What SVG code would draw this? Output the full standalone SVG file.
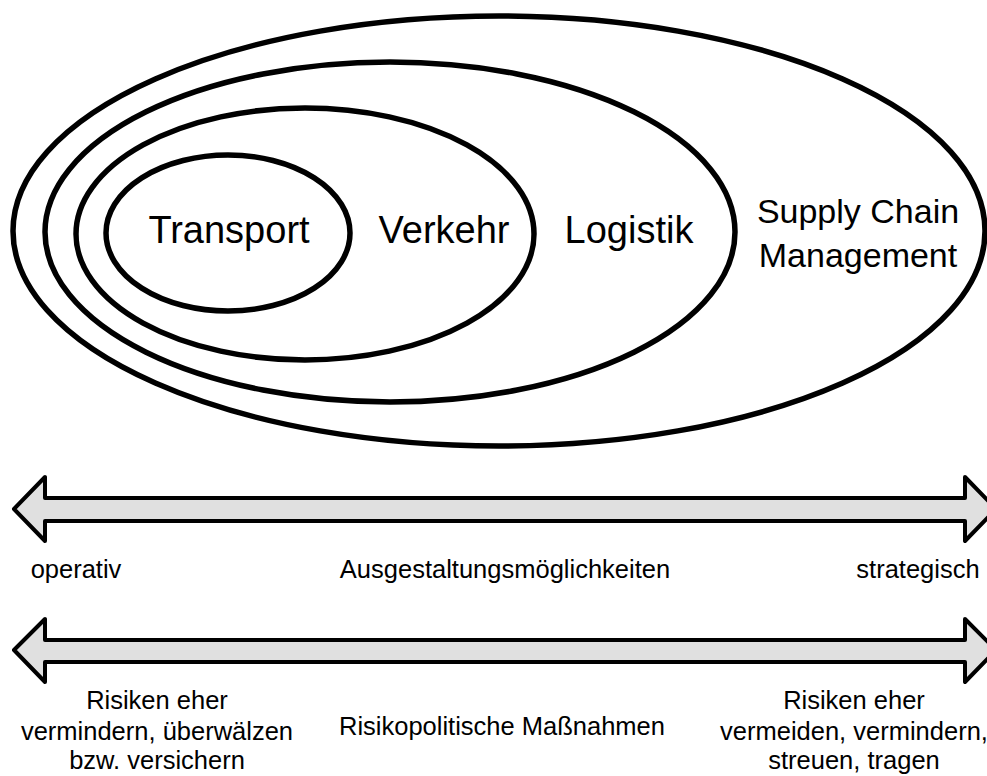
<svg xmlns="http://www.w3.org/2000/svg" width="987" height="776" viewBox="0 0 987 776">
<style>
.ring{fill:none;stroke:#000;stroke-width:5.5}
.arrow{fill:#e0e0e0;stroke:#000;stroke-width:4;stroke-linejoin:round}
text{font-family:"Liberation Sans",Arial,sans-serif;fill:#000;text-anchor:middle}
.big{font-size:38px}
.scm{font-size:34px}
.lbl{font-size:25.5px}
</style>
<rect width="987" height="776" fill="#fff"/>
<g id="scm">
<ellipse class="ring" cx="499" cy="231" rx="486" ry="215"/>
<text class="scm" x="858" y="223">Supply Chain</text>
<text class="scm" x="858" y="267">Management</text>
</g>
<g id="logistik">
<ellipse class="ring" cx="390" cy="232" rx="345" ry="170"/>
<text class="big" x="629" y="243">Logistik</text>
</g>
<g id="verkehr">
<ellipse class="ring" cx="305" cy="234" rx="229" ry="126"/>
<text class="big" x="444" y="243">Verkehr</text>
</g>
<g id="transport">
<ellipse class="ring" cx="228" cy="233" rx="122" ry="78"/>
<text class="big" x="229" y="243">Transport</text>
</g>
<g id="connectors">
<path class="arrow" d="M14,509 L45,477 L45,498 L965,498 L965,477 L996,509 L965,541 L965,521 L45,521 L45,541 Z"/>
<path class="arrow" d="M14,650 L45,619 L45,640 L965,640 L965,619 L996,650 L965,682 L965,662 L45,662 L45,682 Z"/>
</g>
<g id="scale-labels">
<text class="lbl" x="76" y="578">operativ</text>
<text class="lbl" x="505" y="578">Ausgestaltungsmöglichkeiten</text>
<text class="lbl" x="918" y="578">strategisch</text>
</g>
<g id="risk-labels">
<text class="lbl" x="157" y="709">Risiken eher</text>
<text class="lbl" x="157" y="740">vermindern, überwälzen</text>
<text class="lbl" x="157" y="769">bzw. versichern</text>
<text class="lbl" x="502" y="735">Risikopolitische Maßnahmen</text>
<text class="lbl" x="854" y="709">Risiken eher</text>
<text class="lbl" x="854" y="740">vermeiden, vermindern,</text>
<text class="lbl" x="854" y="769">streuen, tragen</text>
</g>
</svg>
